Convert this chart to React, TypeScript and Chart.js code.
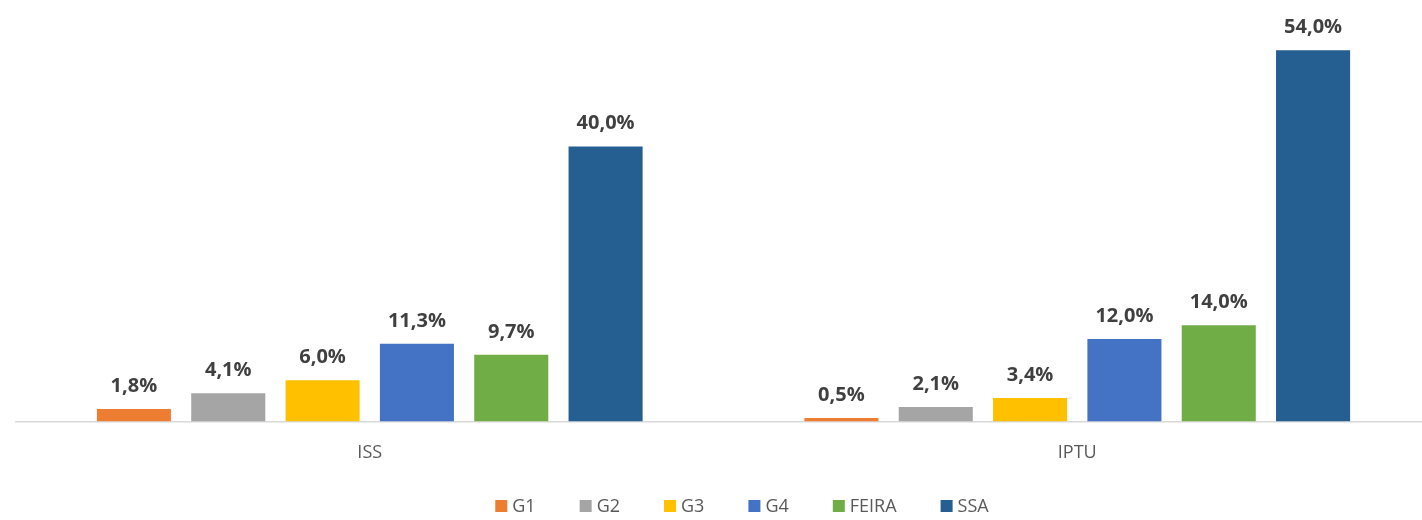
import { useEffect, useRef } from "react";
import { Chart, registerables } from "chart.js";

Chart.register(...registerables);

// ---- Data ----
const categories = ["ISS", "IPTU"];
const seriesNames = ["G1", "G2", "G3", "G4", "FEIRA", "SSA"];
const g1Values = [1.8, 0.5];
const g2Values = [4.1, 2.1];
const g3Values = [6.0, 3.4];
const g4Values = [11.3, 12.0];
const feiraValues = [9.7, 14.0];
const ssaValues = [40.0, 54.0];
const seriesColors = ["#ED7D31", "#A5A5A5", "#FFC000", "#4472C4", "#70AD47", "#255E91"];

const seriesValues = [g1Values, g2Values, g3Values, g4Values, feiraValues, ssaValues];

const FONT = "'Open Sans', 'DejaVu Sans', sans-serif";

const formatPct = (v: number) => v.toFixed(1).replace(".", ",") + "%";

const dataLabelPlugin = {
  id: "dataLabels",
  afterDatasetsDraw(chart: any) {
    const ctx = chart.ctx;
    ctx.save();
    ctx.font = `bold 20px ${FONT}`;
    ctx.fillStyle = "#404040";
    ctx.textAlign = "center";
    ctx.textBaseline = "alphabetic";
    chart.data.datasets.forEach((ds: any, di: number) => {
      const meta = chart.getDatasetMeta(di);
      meta.data.forEach((bar: any, i: number) => {
        ctx.fillText(formatPct(ds.data[i]), bar.x, bar.y - 17);
      });
    });
    ctx.restore();
  },
};

const legendPlugin = {
  id: "customLegend",
  afterDraw(chart: any) {
    const ctx = chart.ctx;
    ctx.save();
    ctx.font = `18px ${FONT}`;
    const box = 12;
    const gapBoxText = 5;
    const gapItems = 44;
    const items = chart.data.datasets.map((ds: any) => ({
      label: ds.label as string,
      color: ds.backgroundColor as string,
      w: ctx.measureText(ds.label).width,
    }));
    const total =
      items.reduce((s: number, it: any) => s + box + gapBoxText + it.w, 0) +
      gapItems * (items.length - 1);
    let x = 742 - total / 2;
    const yc = 506;
    ctx.textBaseline = "middle";
    ctx.textAlign = "left";
    items.forEach((it: any) => {
      ctx.fillStyle = it.color;
      ctx.fillRect(x, yc - box / 2, box, box);
      ctx.fillStyle = "#595959";
      ctx.fillText(it.label, x + box + gapBoxText, yc + 1);
      x += box + gapBoxText + it.w + gapItems;
    });
    ctx.restore();
  },
};

export default function App() {
  const canvasRef = useRef<HTMLCanvasElement | null>(null);

  useEffect(() => {
    if (!canvasRef.current) return;
    const chart = new Chart(canvasRef.current, {
      type: "bar",
      data: {
        labels: categories,
        datasets: seriesNames.map((name, i) => ({
          label: name,
          data: seriesValues[i],
          backgroundColor: seriesColors[i],
          borderWidth: 0,
          categoryPercentage: 0.8,
          barPercentage: 0.785,
        })),
      },
      options: {
        responsive: false,
        animation: false,
        layout: { padding: { left: 16, right: 9, top: 9, bottom: 35 } },
        plugins: {
          legend: { display: false },
          tooltip: { enabled: false },
        },
        scales: {
          x: {
            grid: { display: false, drawTicks: false },
            border: { display: true, color: "#d9d9d9", width: 1.5 },
            ticks: {
              color: "#595959",
              font: { family: FONT, size: 18 },
              padding: 21,
            },
          },
          y: {
            display: false,
            min: 0,
            max: 60,
          },
        },
      },
      plugins: [dataLabelPlugin, legendPlugin],
    });
    return () => chart.destroy();
  }, []);

  return (
    <div
      style={{
        position: "fixed",
        left: 0,
        top: 0,
        width: 1422,
        height: 520,
        overflow: "hidden",
        background: "#ffffff",
      }}
    >
      <canvas ref={canvasRef} width={1440} height={520} style={{ display: "block" }} />
    </div>
  );
}
